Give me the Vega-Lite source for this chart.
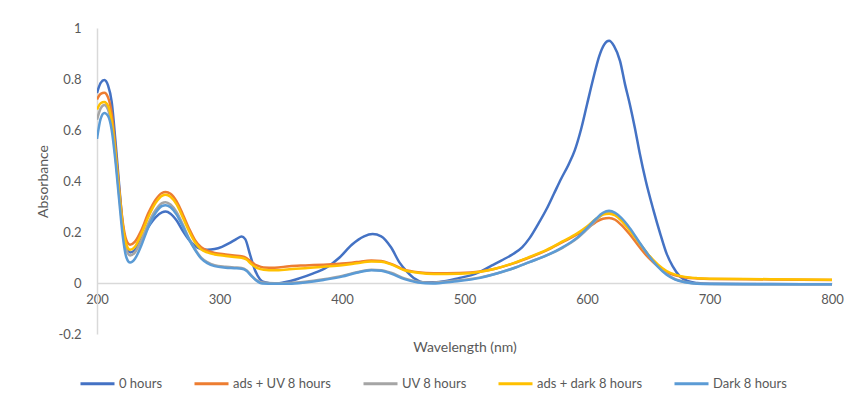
{
  "$schema": "https://vega.github.io/schema/vega-lite/v6.json",
  "width": 735,
  "height": 306,
  "autosize": {"type": "none"},
  "padding": {"left": 97, "top": 28, "right": 25, "bottom": 70},
  "background": "white",
  "config": {
    "font": "Lato",
    "view": {"stroke": null},
    "axis": {
      "labelColor": "#595959",
      "titleColor": "#595959",
      "labelFontSize": 13,
      "titleFontSize": 14,
      "titleFontWeight": "normal",
      "domainColor": "#D9D9D9",
      "domainWidth": 1.5,
      "ticks": false,
      "grid": false
    },
    "legend": {
      "labelColor": "#595959",
      "labelFontSize": 13
    }
  },
  "data": {
    "values": [
      {"w":200,"s":"0 hours","a":0.745},{"w":203,"s":"0 hours","a":0.785},{"w":206,"s":"0 hours","a":0.796},{"w":209,"s":"0 hours","a":0.775},{"w":212,"s":"0 hours","a":0.71},{"w":215,"s":"0 hours","a":0.56},{"w":218,"s":"0 hours","a":0.39},{"w":221,"s":"0 hours","a":0.23},{"w":224,"s":"0 hours","a":0.145},{"w":227,"s":"0 hours","a":0.12},{"w":231,"s":"0 hours","a":0.13},{"w":236,"s":"0 hours","a":0.17},{"w":242,"s":"0 hours","a":0.22},{"w":248,"s":"0 hours","a":0.258},{"w":253,"s":"0 hours","a":0.277},{"w":256,"s":"0 hours","a":0.28},{"w":260,"s":"0 hours","a":0.272},{"w":265,"s":"0 hours","a":0.245},{"w":270,"s":"0 hours","a":0.205},{"w":275,"s":"0 hours","a":0.17},{"w":280,"s":"0 hours","a":0.145},{"w":285,"s":"0 hours","a":0.133},{"w":290,"s":"0 hours","a":0.13},{"w":296,"s":"0 hours","a":0.133},{"w":302,"s":"0 hours","a":0.142},{"w":308,"s":"0 hours","a":0.156},{"w":314,"s":"0 hours","a":0.173},{"w":318,"s":"0 hours","a":0.182},{"w":321,"s":"0 hours","a":0.172},{"w":325,"s":"0 hours","a":0.11},{"w":329,"s":"0 hours","a":0.05},{"w":333,"s":"0 hours","a":0.015},{"w":337,"s":"0 hours","a":0.003},{"w":345,"s":"0 hours","a":-0.002},{"w":352,"s":"0 hours","a":0.002},{"w":358,"s":"0 hours","a":0.008},{"w":365,"s":"0 hours","a":0.018},{"w":375,"s":"0 hours","a":0.035},{"w":388,"s":"0 hours","a":0.063},{"w":398,"s":"0 hours","a":0.1},{"w":408,"s":"0 hours","a":0.15},{"w":418,"s":"0 hours","a":0.183},{"w":425,"s":"0 hours","a":0.192},{"w":432,"s":"0 hours","a":0.183},{"w":440,"s":"0 hours","a":0.14},{"w":447,"s":"0 hours","a":0.08},{"w":453,"s":"0 hours","a":0.045},{"w":460,"s":"0 hours","a":0.015},{"w":466,"s":"0 hours","a":0.003},{"w":475,"s":"0 hours","a":0.003},{"w":485,"s":"0 hours","a":0.008},{"w":496,"s":"0 hours","a":0.02},{"w":505,"s":"0 hours","a":0.03},{"w":513,"s":"0 hours","a":0.045},{"w":522,"s":"0 hours","a":0.068},{"w":530,"s":"0 hours","a":0.088},{"w":540,"s":"0 hours","a":0.115},{"w":547,"s":"0 hours","a":0.14},{"w":553,"s":"0 hours","a":0.175},{"w":560,"s":"0 hours","a":0.23},{"w":567,"s":"0 hours","a":0.29},{"w":573,"s":"0 hours","a":0.35},{"w":579,"s":"0 hours","a":0.41},{"w":585,"s":"0 hours","a":0.465},{"w":590,"s":"0 hours","a":0.52},{"w":595,"s":"0 hours","a":0.6},{"w":600,"s":"0 hours","a":0.7},{"w":605,"s":"0 hours","a":0.8},{"w":610,"s":"0 hours","a":0.89},{"w":614,"s":"0 hours","a":0.935},{"w":618,"s":"0 hours","a":0.95},{"w":622,"s":"0 hours","a":0.93},{"w":627,"s":"0 hours","a":0.87},{"w":631,"s":"0 hours","a":0.78},{"w":635,"s":"0 hours","a":0.7},{"w":639,"s":"0 hours","a":0.61},{"w":643,"s":"0 hours","a":0.51},{"w":648,"s":"0 hours","a":0.4},{"w":654,"s":"0 hours","a":0.29},{"w":660,"s":"0 hours","a":0.19},{"w":665,"s":"0 hours","a":0.115},{"w":670,"s":"0 hours","a":0.065},{"w":676,"s":"0 hours","a":0.025},{"w":682,"s":"0 hours","a":0.008},{"w":690,"s":"0 hours","a":0.0},{"w":700,"s":"0 hours","a":-0.003},{"w":750,"s":"0 hours","a":-0.004},{"w":800,"s":"0 hours","a":-0.005},

      {"w":200,"s":"ads + UV 8 hours","a":0.72},{"w":203,"s":"ads + UV 8 hours","a":0.742},{"w":206,"s":"ads + UV 8 hours","a":0.746},{"w":209,"s":"ads + UV 8 hours","a":0.728},{"w":212,"s":"ads + UV 8 hours","a":0.665},{"w":215,"s":"ads + UV 8 hours","a":0.53},{"w":218,"s":"ads + UV 8 hours","a":0.375},{"w":221,"s":"ads + UV 8 hours","a":0.24},{"w":224,"s":"ads + UV 8 hours","a":0.168},{"w":227,"s":"ads + UV 8 hours","a":0.15},{"w":231,"s":"ads + UV 8 hours","a":0.162},{"w":236,"s":"ads + UV 8 hours","a":0.205},{"w":242,"s":"ads + UV 8 hours","a":0.275},{"w":248,"s":"ads + UV 8 hours","a":0.328},{"w":253,"s":"ads + UV 8 hours","a":0.353},{"w":256,"s":"ads + UV 8 hours","a":0.357},{"w":260,"s":"ads + UV 8 hours","a":0.35},{"w":265,"s":"ads + UV 8 hours","a":0.32},{"w":270,"s":"ads + UV 8 hours","a":0.27},{"w":275,"s":"ads + UV 8 hours","a":0.215},{"w":280,"s":"ads + UV 8 hours","a":0.168},{"w":285,"s":"ads + UV 8 hours","a":0.14},{"w":290,"s":"ads + UV 8 hours","a":0.127},{"w":296,"s":"ads + UV 8 hours","a":0.118},{"w":305,"s":"ads + UV 8 hours","a":0.112},{"w":312,"s":"ads + UV 8 hours","a":0.108},{"w":318,"s":"ads + UV 8 hours","a":0.105},{"w":322,"s":"ads + UV 8 hours","a":0.098},{"w":326,"s":"ads + UV 8 hours","a":0.082},{"w":331,"s":"ads + UV 8 hours","a":0.068},{"w":336,"s":"ads + UV 8 hours","a":0.061},{"w":345,"s":"ads + UV 8 hours","a":0.06},{"w":357,"s":"ads + UV 8 hours","a":0.066},{"w":370,"s":"ads + UV 8 hours","a":0.069},{"w":385,"s":"ads + UV 8 hours","a":0.072},{"w":400,"s":"ads + UV 8 hours","a":0.076},{"w":412,"s":"ads + UV 8 hours","a":0.082},{"w":424,"s":"ads + UV 8 hours","a":0.088},{"w":432,"s":"ads + UV 8 hours","a":0.086},{"w":440,"s":"ads + UV 8 hours","a":0.075},{"w":451,"s":"ads + UV 8 hours","a":0.052},{"w":462,"s":"ads + UV 8 hours","a":0.042},{"w":475,"s":"ads + UV 8 hours","a":0.038},{"w":496,"s":"ads + UV 8 hours","a":0.039},{"w":513,"s":"ads + UV 8 hours","a":0.045},{"w":525,"s":"ads + UV 8 hours","a":0.056},{"w":540,"s":"ads + UV 8 hours","a":0.077},{"w":553,"s":"ads + UV 8 hours","a":0.1},{"w":567,"s":"ads + UV 8 hours","a":0.128},{"w":580,"s":"ads + UV 8 hours","a":0.16},{"w":592,"s":"ads + UV 8 hours","a":0.19},{"w":600,"s":"ads + UV 8 hours","a":0.215},{"w":607,"s":"ads + UV 8 hours","a":0.238},{"w":613,"s":"ads + UV 8 hours","a":0.252},{"w":618,"s":"ads + UV 8 hours","a":0.255},{"w":623,"s":"ads + UV 8 hours","a":0.248},{"w":628,"s":"ads + UV 8 hours","a":0.228},{"w":635,"s":"ads + UV 8 hours","a":0.19},{"w":643,"s":"ads + UV 8 hours","a":0.14},{"w":650,"s":"ads + UV 8 hours","a":0.1},{"w":658,"s":"ads + UV 8 hours","a":0.065},{"w":665,"s":"ads + UV 8 hours","a":0.043},{"w":672,"s":"ads + UV 8 hours","a":0.03},{"w":680,"s":"ads + UV 8 hours","a":0.022},{"w":690,"s":"ads + UV 8 hours","a":0.018},{"w":700,"s":"ads + UV 8 hours","a":0.016},{"w":750,"s":"ads + UV 8 hours","a":0.014},{"w":800,"s":"ads + UV 8 hours","a":0.012},

      {"w":200,"s":"UV 8 hours","a":0.64},{"w":203,"s":"UV 8 hours","a":0.685},{"w":206,"s":"UV 8 hours","a":0.698},{"w":209,"s":"UV 8 hours","a":0.68},{"w":212,"s":"UV 8 hours","a":0.625},{"w":215,"s":"UV 8 hours","a":0.5},{"w":218,"s":"UV 8 hours","a":0.35},{"w":221,"s":"UV 8 hours","a":0.21},{"w":224,"s":"UV 8 hours","a":0.13},{"w":227,"s":"UV 8 hours","a":0.108},{"w":231,"s":"UV 8 hours","a":0.12},{"w":236,"s":"UV 8 hours","a":0.165},{"w":242,"s":"UV 8 hours","a":0.235},{"w":248,"s":"UV 8 hours","a":0.287},{"w":253,"s":"UV 8 hours","a":0.313},{"w":256,"s":"UV 8 hours","a":0.317},{"w":260,"s":"UV 8 hours","a":0.308},{"w":265,"s":"UV 8 hours","a":0.278},{"w":270,"s":"UV 8 hours","a":0.23},{"w":275,"s":"UV 8 hours","a":0.175},{"w":280,"s":"UV 8 hours","a":0.133},{"w":285,"s":"UV 8 hours","a":0.1},{"w":290,"s":"UV 8 hours","a":0.082},{"w":296,"s":"UV 8 hours","a":0.07},{"w":305,"s":"UV 8 hours","a":0.064},{"w":312,"s":"UV 8 hours","a":0.061},{"w":318,"s":"UV 8 hours","a":0.059},{"w":322,"s":"UV 8 hours","a":0.05},{"w":326,"s":"UV 8 hours","a":0.03},{"w":330,"s":"UV 8 hours","a":0.012},{"w":335,"s":"UV 8 hours","a":0.002},{"w":345,"s":"UV 8 hours","a":-0.001},{"w":357,"s":"UV 8 hours","a":0.0},{"w":370,"s":"UV 8 hours","a":0.005},{"w":385,"s":"UV 8 hours","a":0.015},{"w":400,"s":"UV 8 hours","a":0.028},{"w":412,"s":"UV 8 hours","a":0.042},{"w":424,"s":"UV 8 hours","a":0.052},{"w":432,"s":"UV 8 hours","a":0.05},{"w":440,"s":"UV 8 hours","a":0.04},{"w":451,"s":"UV 8 hours","a":0.018},{"w":462,"s":"UV 8 hours","a":0.005},{"w":474,"s":"UV 8 hours","a":0.001},{"w":490,"s":"UV 8 hours","a":0.008},{"w":513,"s":"UV 8 hours","a":0.022},{"w":527,"s":"UV 8 hours","a":0.038},{"w":540,"s":"UV 8 hours","a":0.058},{"w":553,"s":"UV 8 hours","a":0.082},{"w":567,"s":"UV 8 hours","a":0.108},{"w":580,"s":"UV 8 hours","a":0.138},{"w":592,"s":"UV 8 hours","a":0.175},{"w":600,"s":"UV 8 hours","a":0.21},{"w":607,"s":"UV 8 hours","a":0.245},{"w":613,"s":"UV 8 hours","a":0.27},{"w":618,"s":"UV 8 hours","a":0.278},{"w":623,"s":"UV 8 hours","a":0.27},{"w":628,"s":"UV 8 hours","a":0.25},{"w":635,"s":"UV 8 hours","a":0.21},{"w":643,"s":"UV 8 hours","a":0.155},{"w":650,"s":"UV 8 hours","a":0.11},{"w":658,"s":"UV 8 hours","a":0.065},{"w":665,"s":"UV 8 hours","a":0.035},{"w":672,"s":"UV 8 hours","a":0.015},{"w":680,"s":"UV 8 hours","a":0.004},{"w":690,"s":"UV 8 hours","a":-0.002},{"w":700,"s":"UV 8 hours","a":-0.004},{"w":800,"s":"UV 8 hours","a":-0.005},

      {"w":200,"s":"ads + dark 8 hours","a":0.68},{"w":203,"s":"ads + dark 8 hours","a":0.705},{"w":206,"s":"ads + dark 8 hours","a":0.71},{"w":209,"s":"ads + dark 8 hours","a":0.695},{"w":212,"s":"ads + dark 8 hours","a":0.635},{"w":215,"s":"ads + dark 8 hours","a":0.51},{"w":218,"s":"ads + dark 8 hours","a":0.36},{"w":221,"s":"ads + dark 8 hours","a":0.225},{"w":224,"s":"ads + dark 8 hours","a":0.15},{"w":227,"s":"ads + dark 8 hours","a":0.13},{"w":231,"s":"ads + dark 8 hours","a":0.142},{"w":236,"s":"ads + dark 8 hours","a":0.19},{"w":242,"s":"ads + dark 8 hours","a":0.26},{"w":248,"s":"ads + dark 8 hours","a":0.315},{"w":253,"s":"ads + dark 8 hours","a":0.342},{"w":256,"s":"ads + dark 8 hours","a":0.346},{"w":260,"s":"ads + dark 8 hours","a":0.338},{"w":265,"s":"ads + dark 8 hours","a":0.308},{"w":270,"s":"ads + dark 8 hours","a":0.258},{"w":275,"s":"ads + dark 8 hours","a":0.205},{"w":280,"s":"ads + dark 8 hours","a":0.16},{"w":285,"s":"ads + dark 8 hours","a":0.132},{"w":290,"s":"ads + dark 8 hours","a":0.12},{"w":296,"s":"ads + dark 8 hours","a":0.112},{"w":305,"s":"ads + dark 8 hours","a":0.106},{"w":312,"s":"ads + dark 8 hours","a":0.102},{"w":318,"s":"ads + dark 8 hours","a":0.099},{"w":322,"s":"ads + dark 8 hours","a":0.092},{"w":326,"s":"ads + dark 8 hours","a":0.074},{"w":331,"s":"ads + dark 8 hours","a":0.058},{"w":336,"s":"ads + dark 8 hours","a":0.052},{"w":345,"s":"ads + dark 8 hours","a":0.05},{"w":357,"s":"ads + dark 8 hours","a":0.054},{"w":370,"s":"ads + dark 8 hours","a":0.058},{"w":385,"s":"ads + dark 8 hours","a":0.064},{"w":400,"s":"ads + dark 8 hours","a":0.07},{"w":412,"s":"ads + dark 8 hours","a":0.077},{"w":424,"s":"ads + dark 8 hours","a":0.084},{"w":432,"s":"ads + dark 8 hours","a":0.083},{"w":440,"s":"ads + dark 8 hours","a":0.073},{"w":451,"s":"ads + dark 8 hours","a":0.05},{"w":462,"s":"ads + dark 8 hours","a":0.04},{"w":475,"s":"ads + dark 8 hours","a":0.035},{"w":496,"s":"ads + dark 8 hours","a":0.036},{"w":513,"s":"ads + dark 8 hours","a":0.044},{"w":525,"s":"ads + dark 8 hours","a":0.056},{"w":540,"s":"ads + dark 8 hours","a":0.078},{"w":553,"s":"ads + dark 8 hours","a":0.102},{"w":567,"s":"ads + dark 8 hours","a":0.13},{"w":580,"s":"ads + dark 8 hours","a":0.163},{"w":592,"s":"ads + dark 8 hours","a":0.195},{"w":600,"s":"ads + dark 8 hours","a":0.222},{"w":607,"s":"ads + dark 8 hours","a":0.25},{"w":613,"s":"ads + dark 8 hours","a":0.268},{"w":618,"s":"ads + dark 8 hours","a":0.272},{"w":623,"s":"ads + dark 8 hours","a":0.265},{"w":628,"s":"ads + dark 8 hours","a":0.245},{"w":635,"s":"ads + dark 8 hours","a":0.205},{"w":643,"s":"ads + dark 8 hours","a":0.155},{"w":650,"s":"ads + dark 8 hours","a":0.112},{"w":658,"s":"ads + dark 8 hours","a":0.072},{"w":665,"s":"ads + dark 8 hours","a":0.047},{"w":672,"s":"ads + dark 8 hours","a":0.033},{"w":680,"s":"ads + dark 8 hours","a":0.024},{"w":690,"s":"ads + dark 8 hours","a":0.019},{"w":700,"s":"ads + dark 8 hours","a":0.017},{"w":750,"s":"ads + dark 8 hours","a":0.015},{"w":800,"s":"ads + dark 8 hours","a":0.013},

      {"w":200,"s":"Dark 8 hours","a":0.565},{"w":203,"s":"Dark 8 hours","a":0.645},{"w":206,"s":"Dark 8 hours","a":0.667},{"w":209,"s":"Dark 8 hours","a":0.655},{"w":212,"s":"Dark 8 hours","a":0.6},{"w":215,"s":"Dark 8 hours","a":0.48},{"w":218,"s":"Dark 8 hours","a":0.33},{"w":221,"s":"Dark 8 hours","a":0.185},{"w":224,"s":"Dark 8 hours","a":0.1},{"w":227,"s":"Dark 8 hours","a":0.08},{"w":231,"s":"Dark 8 hours","a":0.095},{"w":236,"s":"Dark 8 hours","a":0.145},{"w":242,"s":"Dark 8 hours","a":0.22},{"w":248,"s":"Dark 8 hours","a":0.276},{"w":253,"s":"Dark 8 hours","a":0.302},{"w":256,"s":"Dark 8 hours","a":0.305},{"w":260,"s":"Dark 8 hours","a":0.297},{"w":265,"s":"Dark 8 hours","a":0.268},{"w":270,"s":"Dark 8 hours","a":0.222},{"w":275,"s":"Dark 8 hours","a":0.172},{"w":280,"s":"Dark 8 hours","a":0.13},{"w":285,"s":"Dark 8 hours","a":0.096},{"w":290,"s":"Dark 8 hours","a":0.078},{"w":296,"s":"Dark 8 hours","a":0.066},{"w":305,"s":"Dark 8 hours","a":0.06},{"w":312,"s":"Dark 8 hours","a":0.058},{"w":318,"s":"Dark 8 hours","a":0.056},{"w":322,"s":"Dark 8 hours","a":0.048},{"w":326,"s":"Dark 8 hours","a":0.028},{"w":330,"s":"Dark 8 hours","a":0.01},{"w":335,"s":"Dark 8 hours","a":-0.002},{"w":345,"s":"Dark 8 hours","a":-0.003},{"w":357,"s":"Dark 8 hours","a":-0.003},{"w":370,"s":"Dark 8 hours","a":0.002},{"w":385,"s":"Dark 8 hours","a":0.012},{"w":400,"s":"Dark 8 hours","a":0.025},{"w":412,"s":"Dark 8 hours","a":0.04},{"w":424,"s":"Dark 8 hours","a":0.05},{"w":432,"s":"Dark 8 hours","a":0.048},{"w":440,"s":"Dark 8 hours","a":0.037},{"w":451,"s":"Dark 8 hours","a":0.015},{"w":462,"s":"Dark 8 hours","a":0.002},{"w":474,"s":"Dark 8 hours","a":-0.002},{"w":490,"s":"Dark 8 hours","a":0.005},{"w":513,"s":"Dark 8 hours","a":0.02},{"w":527,"s":"Dark 8 hours","a":0.038},{"w":540,"s":"Dark 8 hours","a":0.058},{"w":553,"s":"Dark 8 hours","a":0.082},{"w":567,"s":"Dark 8 hours","a":0.108},{"w":580,"s":"Dark 8 hours","a":0.14},{"w":592,"s":"Dark 8 hours","a":0.178},{"w":600,"s":"Dark 8 hours","a":0.215},{"w":607,"s":"Dark 8 hours","a":0.25},{"w":613,"s":"Dark 8 hours","a":0.275},{"w":618,"s":"Dark 8 hours","a":0.283},{"w":623,"s":"Dark 8 hours","a":0.275},{"w":628,"s":"Dark 8 hours","a":0.255},{"w":635,"s":"Dark 8 hours","a":0.215},{"w":643,"s":"Dark 8 hours","a":0.158},{"w":650,"s":"Dark 8 hours","a":0.11},{"w":658,"s":"Dark 8 hours","a":0.063},{"w":665,"s":"Dark 8 hours","a":0.032},{"w":672,"s":"Dark 8 hours","a":0.013},{"w":680,"s":"Dark 8 hours","a":0.003},{"w":690,"s":"Dark 8 hours","a":-0.003},{"w":700,"s":"Dark 8 hours","a":-0.004},{"w":800,"s":"Dark 8 hours","a":-0.005}
    ]
  },
  "mark": {"type": "line", "interpolate": "monotone", "strokeWidth": 2.5, "clip": true},
  "encoding": {
    "x": {
      "field": "w",
      "type": "quantitative",
      "scale": {"domain": [200, 800], "nice": false},
      "axis": {
        "title": "Wavelength (nm)",
        "values": [200, 300, 400, 500, 600, 700, 800],
        "offset": -51,
        "labelPadding": 10,
        "titlePadding": 34,
        "labelFlush": false
      }
    },
    "y": {
      "field": "a",
      "type": "quantitative",
      "scale": {"domain": [-0.2, 1], "nice": false, "zero": false},
      "axis": {
        "title": "Absorbance",
        "values": [-0.2, 0, 0.2, 0.4, 0.6, 0.8, 1],
        "labelExpr": "'' + datum.value",
        "labelPadding": 16,
        "titlePadding": 8
      }
    },
    "color": {
      "field": "s",
      "type": "nominal",
      "scale": {
        "domain": ["0 hours", "ads + UV 8 hours", "UV 8 hours", "ads + dark 8 hours", "Dark 8 hours"],
        "range": ["#4472C4", "#ED7D31", "#A5A5A5", "#FFC000", "#5B9BD5"]
      },
      "legend": {
        "title": null,
        "orient": "none",
        "legendX": -18,
        "legendY": 337,
        "direction": "horizontal",
        "columns": 5,
        "symbolType": "stroke",
        "symbolSize": 1156,
        "symbolStrokeWidth": 3,
        "labelOffset": 3,
        "columnPadding": 25
      }
    },
    "order": {"field": "w", "type": "quantitative"}
  }
}
